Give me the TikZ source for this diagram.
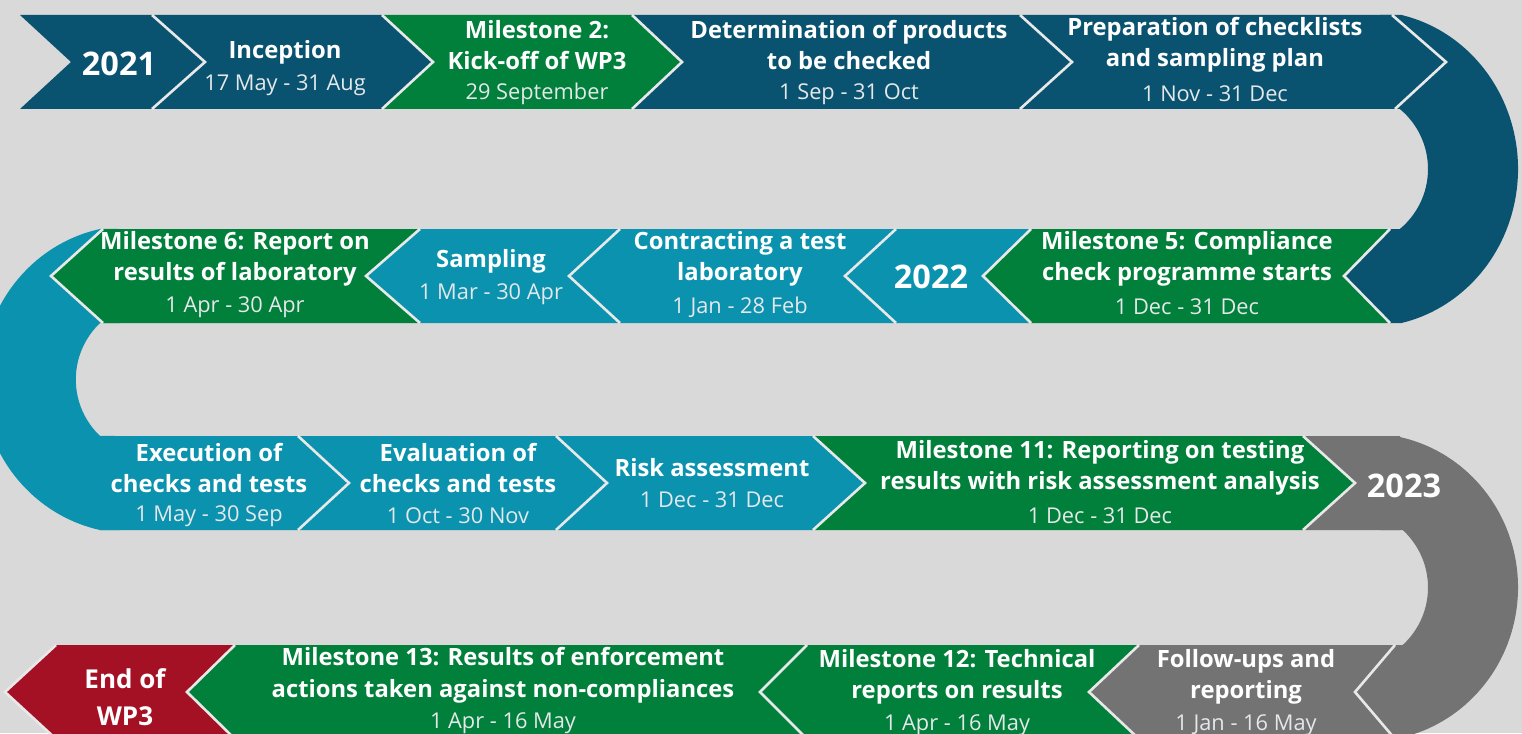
\documentclass[tikz,border=0pt]{standalone}
\usepackage{fontspec}
\setmainfont{Open Sans}
\definecolor{db}{RGB}{10,83,112}
\definecolor{gr}{RGB}{0,128,58}
\definecolor{tl}{RGB}{11,146,175}
\definecolor{gy}{RGB}{115,115,115}
\definecolor{rd}{RGB}{165,17,36}
\definecolor{bgc}{RGB}{217,217,217}
\definecolor{sepc}{RGB}{232,232,232}
\definecolor{datec}{RGB}{228,232,234}
\tikzset{
  sepline/.style={draw=sepc, line width=2.6pt, line join=miter},
  ttl/.style={font=\bfseries\fontsize{23.8}{31.5}\selectfont, text=white, align=center, inner sep=0pt},
  dte/.style={font=\fontsize{21.8}{25}\selectfont, text=datec, align=center, inner sep=0pt, yshift=-2pt},
  yr/.style={font=\bfseries\fontsize{32.5}{38}\selectfont, text=white, inner sep=0pt},
}
\begin{document}
\begin{tikzpicture}[x=1pt,y=-1pt]
\useasboundingbox (0,0) rectangle (1522,733);
\clip (0,0) rectangle (1522,733);
\fill[bgc] (0,0) rectangle (1522,733);

% ---- bands (behind) ----
\fill[db] ([shift={(-77.1:150 and 158)}]1368,169) arc[start angle=-77.1, end angle=77.1, x radius=150, y radius=158]
  -- (1390,323) -- (1344,276) -- (1390,229)
  -- ([shift={(50.3:78)}]1350,169) arc[start angle=50.3, end angle=-50.3, radius=78]
  -- (1380,109) -- (1380,15) -- cycle;
\fill[tl] ([shift={(257.8:150 and 154)}]131.7,379.5) arc[start angle=257.8, end angle=102.2, x radius=150, y radius=154]
  -- (120,530) -- (120,436)
  -- ([shift={(133.6:78)}]153.8,379.5) arc[start angle=133.6, end angle=226.4, radius=78]
  -- (120,323) -- (120,229) -- cycle;
\fill[gy] ([shift={(-79.66:150 and 154)}]1368,587.5) arc[start angle=-79.66, end angle=79.66, x radius=150, y radius=154]
  -- (1395,739) -- (1355,692) -- (1395,645)
  -- ([shift={(47.5:78)}]1350,587.5) arc[start angle=47.5, end angle=-47.5, radius=78]
  -- (1380,530) -- (1380,436) -- cycle;

% ---- row 1 ----
\fill[db] (20,15) -- (152,15) -- (205,62) -- (152,109) -- (20,109) -- (71,62) -- cycle;
\fill[db] (152,15) -- (382,15) -- (433,62) -- (382,109) -- (152,109) -- (205,62) -- cycle;
\fill[gr] (382,15) -- (632,15) -- (682,62) -- (632,109) -- (382,109) -- (433,62) -- cycle;
\fill[db] (632,15) -- (1020,15) -- (1072,62) -- (1020,109) -- (632,109) -- (682,62) -- cycle;
\fill[db] (1020,15) -- (1392,15) -- (1446,62) -- (1395,109) -- (1020,109) -- (1072,62) -- cycle;
\draw[sepline] (152,15) -- (205,62) -- (152,109);
\draw[sepline] (382,15) -- (433,62) -- (382,109);
\draw[sepline] (632,15) -- (682,62) -- (632,109);
\draw[sepline] (1020,15) -- (1072,62) -- (1020,109);
\draw[sepline] (1392,15) -- (1446,62) -- (1395,109);

% ---- row 2 ----
\fill[gr] (103,229) -- (420,229) -- (366,276) -- (420,323) -- (103,323) -- (51,276) -- cycle;
\fill[tl] (420,229) -- (620,229) -- (569,276) -- (620,323) -- (420,323) -- (366,276) -- cycle;
\fill[tl] (620,229) -- (896,229) -- (845,276) -- (896,323) -- (620,323) -- (569,276) -- cycle;
\fill[tl] (896,229) -- (1031,229) -- (983,276) -- (1031,323) -- (896,323) -- (845,276) -- cycle;
\fill[gr] (1031,229) -- (1390,229) -- (1344,276) -- (1390,323) -- (1031,323) -- (983,276) -- cycle;
\draw[sepline] (103,229) -- (51,276) -- (103,323);
\draw[sepline] (420,229) -- (366,276) -- (420,323);
\draw[sepline] (620,229) -- (569,276) -- (620,323);
\draw[sepline] (896,229) -- (845,276) -- (896,323);
\draw[sepline] (1031,229) -- (983,276) -- (1031,323);
\draw[sepline] (1390,229) -- (1344,276) -- (1390,323);

% ---- row 3 ----
\fill[tl] (100,436) -- (298,436) -- (349,483) -- (298,530) -- (100,530) -- cycle;
\fill[tl] (298,436) -- (556,436) -- (607,483) -- (556,530) -- (298,530) -- (349,483) -- cycle;
\fill[tl] (556,436) -- (813,436) -- (865,483) -- (813,530) -- (556,530) -- (607,483) -- cycle;
\fill[gr] (813,436) -- (1303,436) -- (1355,483) -- (1303,530) -- (813,530) -- (865,483) -- cycle;
\fill[gy] (1303,436) -- (1400,436) -- (1400,530) -- (1303,530) -- (1355,483) -- cycle;
\draw[sepline] (298,436) -- (349,483) -- (298,530);
\draw[sepline] (556,436) -- (607,483) -- (556,530);
\draw[sepline] (813,436) -- (865,483) -- (813,530);
\draw[sepline] (1303,436) -- (1355,483) -- (1303,530);

% ---- row 4 ----
\fill[rd] (56,645) -- (235,645) -- (187,692) -- (235,739) -- (56,739) -- (5,692) -- cycle;
\fill[gr] (235,645) -- (807,645) -- (760,692) -- (807,739) -- (235,739) -- (187,692) -- cycle;
\fill[gr] (807,645) -- (1139,645) -- (1089,692) -- (1139,739) -- (807,739) -- (760,692) -- cycle;
\fill[gy] (1139,645) -- (1395,645) -- (1355,692) -- (1395,739) -- (1139,739) -- (1089,692) -- cycle;
\draw[sepline] (56,645) -- (5,692) -- (56,739);
\draw[sepline] (235,645) -- (187,692) -- (235,739);
\draw[sepline] (807,645) -- (760,692) -- (807,739);
\draw[sepline] (1139,645) -- (1089,692) -- (1139,739);
\draw[sepline] (1395,645) -- (1355,692) -- (1395,739);

% ---- texts row 1 ----
\node[yr] (y2021) at (119,64) {2021};
\node[ttl] (t1) at (285,52) {Inception};
\node[dte] (d1) at (285,83) {17 May - 31 Aug};
\node[ttl] (t2) at (537,45) {Milestone 2:\\Kick-off of WP3};
\node[dte] (d2) at (537,92) {29 September};
\node[ttl] (t3) at (849,45) {Determination of products\\to be checked};
\node[dte] (d3) at (849,92) {1 Sep - 31 Oct};
\node[ttl] (t4) at (1215,45) {Preparation of checklists\\and sampling plan};
\node[dte] (d4) at (1215,92) {1 Nov - 31 Dec};

% ---- texts row 2 ----
\node[ttl] (t5) at (235,259) {Milestone 6: Report on\\results of laboratory};
\node[dte] (d5) at (235,305) {1 Apr - 30 Apr};
\node[ttl] (t6) at (491,261) {Sampling};
\node[dte] (d6) at (491,292) {1 Mar - 30 Apr};
\node[ttl] (t7) at (740,259) {Contracting a test\\laboratory};
\node[dte] (d7) at (740,305) {1 Jan - 28 Feb};
\node[yr] (y2022) at (931,277) {2022};
\node[ttl] (t8) at (1187,259) {Milestone 5: Compliance\\check programme starts};
\node[dte] (d8) at (1187,305) {1 Dec - 31 Dec};

% ---- texts row 3 ----
\node[ttl] (t9) at (209,468) {Execution of\\checks and tests};
\node[dte] (d9) at (209,514) {1 May - 30 Sep};
\node[ttl] (t10) at (458,468) {Evaluation of\\checks and tests};
\node[dte] (d10) at (458,514) {1 Oct - 30 Nov};
\node[ttl] (t11) at (712,468) {Risk assessment};
\node[dte] (d11) at (712,498) {1 Dec - 31 Dec};
\node[ttl] (t12) at (1100,468) {Milestone 11: Reporting on testing\\results with risk assessment analysis};
\node[dte] (d12) at (1100,514) {1 Dec - 31 Dec};
\node[yr] (y2023) at (1404,486) {2023};

% ---- texts row 4 ----
\node[ttl, font=\bfseries\fontsize{26}{37}\selectfont] (t13) at (125,697) {End of\\WP3};
\node[ttl] (t14) at (503,675) {Milestone 13: Results of enforcement\\actions taken against non-compliances};
\node[dte] (d14) at (503,721) {1 Apr - 16 May};
\node[ttl] (t15) at (957,677) {Milestone 12: Technical\\reports on results};
\node[dte] (d15) at (957,723) {1 Apr - 16 May};
\node[ttl] (t16) at (1246,677) {Follow-ups and\\reporting};
\node[dte] (d16) at (1246,723) {1 Jan - 16 May};
\end{tikzpicture}
\end{document}
